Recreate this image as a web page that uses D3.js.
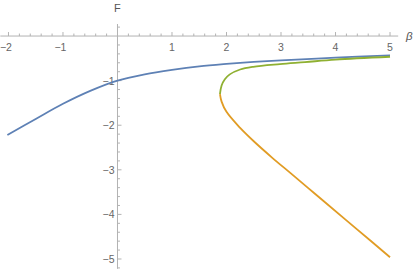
<!DOCTYPE html>
<html>
<head>
<meta charset="utf-8">
<script src="https://cdn.jsdelivr.net/npm/d3@7"></script>
<style>
  body { margin: 0; background: #fff; }
  text { font-family: "Liberation Sans", "DejaVu Sans", sans-serif; }
</style>
</head>
<body>
<div id="chart"></div>
<script>
// values: [beta, F]
const blueBranch = [
  [-2.02, -2.22], [-1.5, -1.86], [-1.0, -1.52], [-0.5, -1.23], [0.0, -1.0],
  [0.5, -0.86], [1.0, -0.76], [1.5, -0.68], [2.0, -0.625], [2.5, -0.58],
  [3.0, -0.545], [4.0, -0.485], [5.0, -0.435]
]
const greenBranch = [
  [1.88, -1.30], [1.91, -1.11], [1.97, -0.97], [2.06, -0.86], [2.25, -0.75],
  [2.49, -0.69], [2.98, -0.63], [3.44, -0.585], [4.0, -0.528], [5.0, -0.465]
]
const orangeBranch = [
  [1.88, -1.30], [1.91, -1.47], [2.0, -1.70], [2.25, -2.06], [2.5, -2.36],
  [2.83, -2.72], [3.17, -3.07], [3.5, -3.41], [3.78, -3.70], [4.39, -4.33],
  [5.0, -4.96]
]
const xTicks = [-2, -1, 1, 2, 3, 4, 5]
const yTicks = [-1, -2, -3, -4, -5]

const WIDTH = 415, HEIGHT = 271
const COLORS = {blue: "#5e81b5", green: "#8fb032", orange: "#e19c24"}

const x = d3.scaleLinear().domain([-2.15, 5.15]).range([0.3, 398.2])
const y = d3.scaleLinear().domain([0.27, -5.22]).range([24, 268.8])

const svg = d3.select("#chart").append("svg")
  .attr("width", WIDTH)
  .attr("height", HEIGHT)

/*********************************************
// Axes
*********************************************/
function drawAxes() {
  const g = svg.append("g").attr("class", "axes")
  const axisColor = "#b3b3b3"
  const x0 = x(0), y0 = y(0)

  g.append("line")
    .attr("x1", x.range()[0]).attr("x2", x.range()[1])
    .attr("y1", y0).attr("y2", y0)
    .attr("stroke", axisColor)
  g.append("line")
    .attr("x1", x0).attr("x2", x0)
    .attr("y1", y.range()[0]).attr("y2", y.range()[1])
    .attr("stroke", axisColor)

  // minor ticks every 0.2
  const isMajor = (d) => Math.abs(d - Math.round(d)) < 1e-6
  const xMinor = d3.range(-21, 52).map((i) => i / 10).filter((v) => Math.round(v * 10) % 2 === 0 && v !== 0)
  g.selectAll("line.xtick")
    .data(xMinor).enter()
    .append("line")
    .attr("class", "xtick")
    .attr("x1", (d) => x(d)).attr("x2", (d) => x(d))
    .attr("y1", y0)
    .attr("y2", (d) => y0 - (isMajor(d) ? 4 : 2.5))
    .attr("stroke", axisColor)

  const yMinor = d3.range(-52, 3).map((i) => i / 10).filter((v) => Math.round(v * 10) % 2 === 0 && v !== 0)
  g.selectAll("line.ytick")
    .data(yMinor).enter()
    .append("line")
    .attr("class", "ytick")
    .attr("y1", (d) => y(d)).attr("y2", (d) => y(d))
    .attr("x1", x0)
    .attr("x2", (d) => x0 + (isMajor(d) ? 4 : 2.5))
    .attr("stroke", axisColor)

  const fmt = (d) => (d < 0 ? "\u2212" + Math.abs(d) : String(d))

  g.selectAll("text.xlabel")
    .data(xTicks).enter()
    .append("text")
    .attr("class", "xlabel")
    .attr("x", (d) => x(d) - (d < 0 ? 2.5 : 0))
    .attr("y", y0 + 15)
    .attr("text-anchor", "middle")
    .attr("font-size", 10.5)
    .attr("fill", "#666")
    .text(fmt)

  g.selectAll("text.ylabel")
    .data(yTicks).enter()
    .append("text")
    .attr("class", "ylabel")
    .attr("x", x0 - 3)
    .attr("y", (d) => y(d) + 4)
    .attr("text-anchor", "end")
    .attr("font-size", 10.5)
    .attr("fill", "#666")
    .text(fmt)

  g.append("text")
    .attr("x", x0).attr("y", 12)
    .attr("text-anchor", "middle")
    .attr("font-size", 11)
    .attr("fill", "#555")
    .text("F")

  g.append("text")
    .attr("x", 406).attr("y", y0 + 4)
    .attr("font-size", 11.5)
    .attr("font-style", "italic")
    .attr("fill", "#555")
    .text("β")
}

/*********************************************
// Curves
*********************************************/
function drawCurve(data, color) {
  const line = d3.line()
    .x((d) => x(d[0]))
    .y((d) => y(d[1]))
    .curve(d3.curveCatmullRom.alpha(0.5))

  svg.append("path")
    .datum(data)
    .attr("d", line)
    .attr("fill", "none")
    .attr("stroke", color)
    .attr("stroke-width", 1.8)
}

drawAxes()
drawCurve(blueBranch, COLORS.blue)
drawCurve(orangeBranch, COLORS.orange)
drawCurve(greenBranch, COLORS.green)
</script>
</body>
</html>
